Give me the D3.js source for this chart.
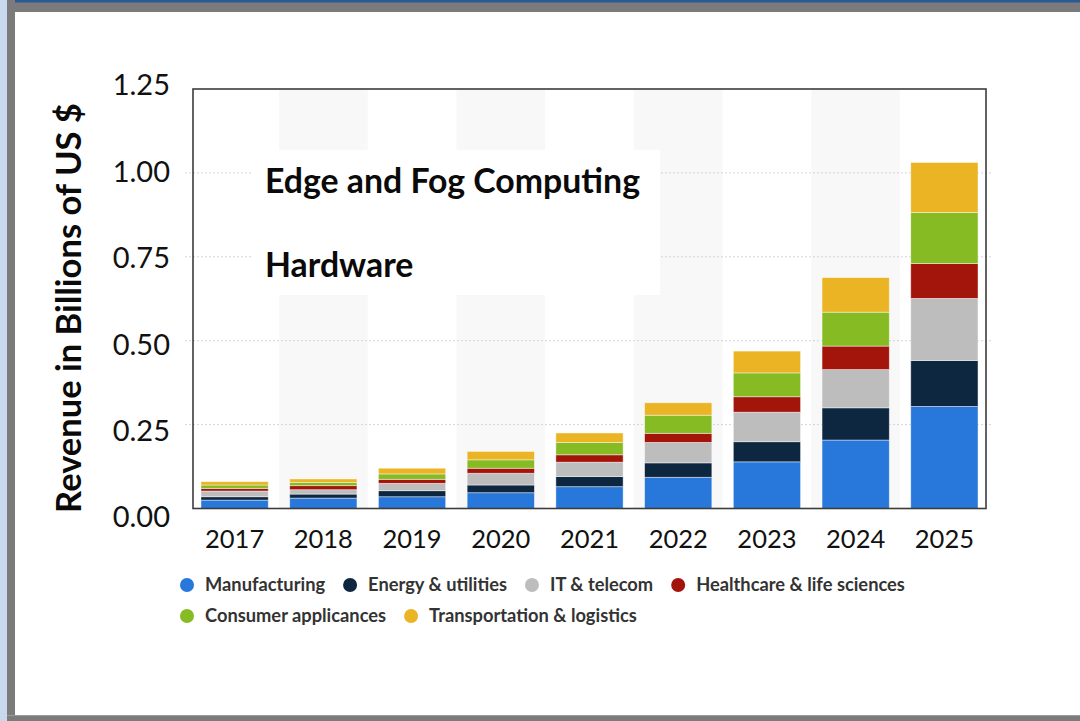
<!DOCTYPE html>
<html>
<head>
<meta charset="utf-8">
<script src="https://cdn.jsdelivr.net/npm/d3@7/dist/d3.min.js"></script>
<style>
  html, body { margin: 0; padding: 0; background: #fff; }
  svg { display: block; }
</style>
</head>
<body>
<svg id="chart" width="1080" height="721"></svg>
<script>
// ---- data ----
const categories = ['2017','2018','2019','2020','2021','2022','2023','2024','2025'];
const seriesNames = ['Manufacturing','Energy & utilities','IT & telecom','Healthcare & life sciences','Consumer applicances','Transportation & logistics'];
const seriesColors = ['#2877db','#0e2740','#bdbdbd','#a3140b','#86bb24','#ebb424'];
const manufacturing = [0.025,0.031,0.035,0.047,0.065,0.093,0.139,0.204,0.304];
const energyUtilities = [0.010,0.012,0.018,0.023,0.030,0.043,0.060,0.096,0.137];
const itTelecom = [0.017,0.013,0.022,0.035,0.043,0.061,0.088,0.114,0.185];
const healthcare = [0.008,0.012,0.012,0.015,0.022,0.027,0.046,0.070,0.104];
const consumerAppliances = [0.010,0.010,0.016,0.025,0.037,0.054,0.071,0.101,0.152];
const transportation = [0.010,0.010,0.017,0.025,0.028,0.037,0.065,0.103,0.149];
const yTicks = [0, 0.25, 0.5, 0.75, 1.0, 1.25];
const yTickLabels = ['0.00','0.25','0.50','0.75','1.00','1.25'];
const titleLines = ['Edge and Fog Computing','Hardware'];
const yTitle = 'Revenue in Billions of US $';

const seriesValues = [manufacturing, energyUtilities, itTelecom, healthcare, consumerAppliances, transportation];

// ---- layout ----
const svg = d3.select('#chart');
const plot = { left: 193, right: 986, top: 89, bottom: 508.5 };

// frame
svg.append('rect').attr('x',0).attr('y',0).attr('width',1080).attr('height',721).attr('fill','#ffffff');
svg.append('rect').attr('x',0).attr('y',0).attr('width',1080).attr('height',12).attr('fill','#7b7b7b');
svg.append('rect').attr('x',0).attr('y',0).attr('width',1080).attr('height',2.5).attr('fill','#2a5a94');
svg.append('rect').attr('x',7).attr('y',0).attr('width',8).attr('height',721).attr('fill','#7b7b7b');
svg.append('rect').attr('x',0).attr('y',715).attr('width',1080).attr('height',6).attr('fill','#7b7b7b');
svg.append('rect').attr('x',0).attr('y',715).attr('width',1080).attr('height',1).attr('fill','#9a9a9a');
svg.append('rect').attr('x',0).attr('y',0).attr('width',7).attr('height',721).attr('fill','#c8d9ef');

const x = d3.scaleBand().domain(categories).range([plot.left, plot.right]).paddingInner(0.242).paddingOuter(0.09);
const y = d3.scaleLinear().domain([0, 1.25]).range([plot.bottom, plot.top]);
const yLabel = d3.scaleLinear().domain([0, 1.25]).range([517, 85]);
const step = x.step();

// alternating column shading
svg.append('g').selectAll('rect').data(categories.filter((d,i)=> i % 2 === 1)).join('rect')
  .attr('x', d => x(d) + x.bandwidth()/2 - step/2)
  .attr('y', plot.top)
  .attr('width', step)
  .attr('height', plot.bottom - plot.top)
  .attr('fill', '#f8f8f8');

// gridlines
svg.append('g').selectAll('line').data(yTicks.filter(t => t > 0 && t < 1.25)).join('line')
  .attr('x1', plot.left - 8).attr('x2', plot.right + 6)
  .attr('y1', d => y(d)).attr('y2', d => y(d))
  .attr('stroke', '#d4d4d4').attr('stroke-width', 1).attr('stroke-dasharray', '2,2');

// title box
svg.append('rect').attr('x', 252).attr('y', 150).attr('width', 408).attr('height', 145).attr('fill', '#ffffff');
svg.append('g').selectAll('text').data(titleLines).join('text')
  .attr('x', 265).attr('y', (d,i) => i === 0 ? 193 : 277)
  .attr('font-family', 'Lato, sans-serif').attr('font-weight', 700).attr('font-size', 33.8)
  .attr('fill', '#0a0a0a')
  .text(d => d);

// stacked bars
const table = categories.map((c, i) => {
  const row = { category: c };
  seriesNames.forEach((s, j) => row[s] = seriesValues[j][i]);
  return row;
});
const stacked = d3.stack().keys(seriesNames)(table);
svg.append('g').selectAll('g').data(stacked).join('g')
  .attr('fill', (d, i) => seriesColors[i])
  .selectAll('rect').data(d => d).join('rect')
  .attr('x', d => x(d.data.category))
  .attr('width', x.bandwidth())
  .attr('y', d => y(d[1]))
  .attr('height', d => y(d[0]) - y(d[1]))
  .attr('stroke', '#ffffff').attr('stroke-opacity', 0.55).attr('stroke-width', 0.8);

// plot frame
svg.append('rect').attr('x', plot.left).attr('y', plot.top)
  .attr('width', plot.right - plot.left).attr('height', plot.bottom - plot.top)
  .attr('fill', 'none').attr('stroke', '#3c3c3c').attr('stroke-width', 1.6);

// y axis labels
svg.append('g').selectAll('text').data(yTicks).join('text')
  .attr('x', 170).attr('y', d => yLabel(d))
  .attr('dy', '0.36em')
  .attr('text-anchor', 'end')
  .attr('font-family', 'Lato, sans-serif').attr('font-size', 29).attr('fill', '#111')
  .text((d, i) => yTickLabels[i]);

// x axis labels
svg.append('g').selectAll('text').data(categories).join('text')
  .attr('x', d => x(d) + x.bandwidth()/2).attr('y', 548)
  .attr('text-anchor', 'middle')
  .attr('font-family', 'Lato, sans-serif').attr('font-size', 25.5).attr('fill', '#111')
  .text(d => d);

// y title
svg.append('text')
  .attr('transform', 'translate(81,308) rotate(-90)')
  .attr('text-anchor', 'middle')
  .attr('font-family', 'Lato, sans-serif').attr('font-weight', 700).attr('font-size', 34.5).attr('fill', '#0a0a0a')
  .text(yTitle);

// legend
const legendRows = [[0,1,2,3],[4,5]];
const legendRowY = [585, 616];
legendRows.forEach((row, r) => {
  let cx = 187;
  row.forEach(j => {
    const g = svg.append('g');
    g.append('circle').attr('cx', cx).attr('cy', legendRowY[r]).attr('r', 7).attr('fill', seriesColors[j]);
    const t = g.append('text').attr('x', cx + 18).attr('y', legendRowY[r]).attr('dy', '0.35em')
      .attr('font-family', 'Lato, sans-serif').attr('font-weight', 700).attr('font-size', 18.3)
      .attr('fill', '#333').text(seriesNames[j]);
    const w = t.node().getComputedTextLength();
    cx = cx + 18 + w + 25;
  });
});
</script>
</body>
</html>
